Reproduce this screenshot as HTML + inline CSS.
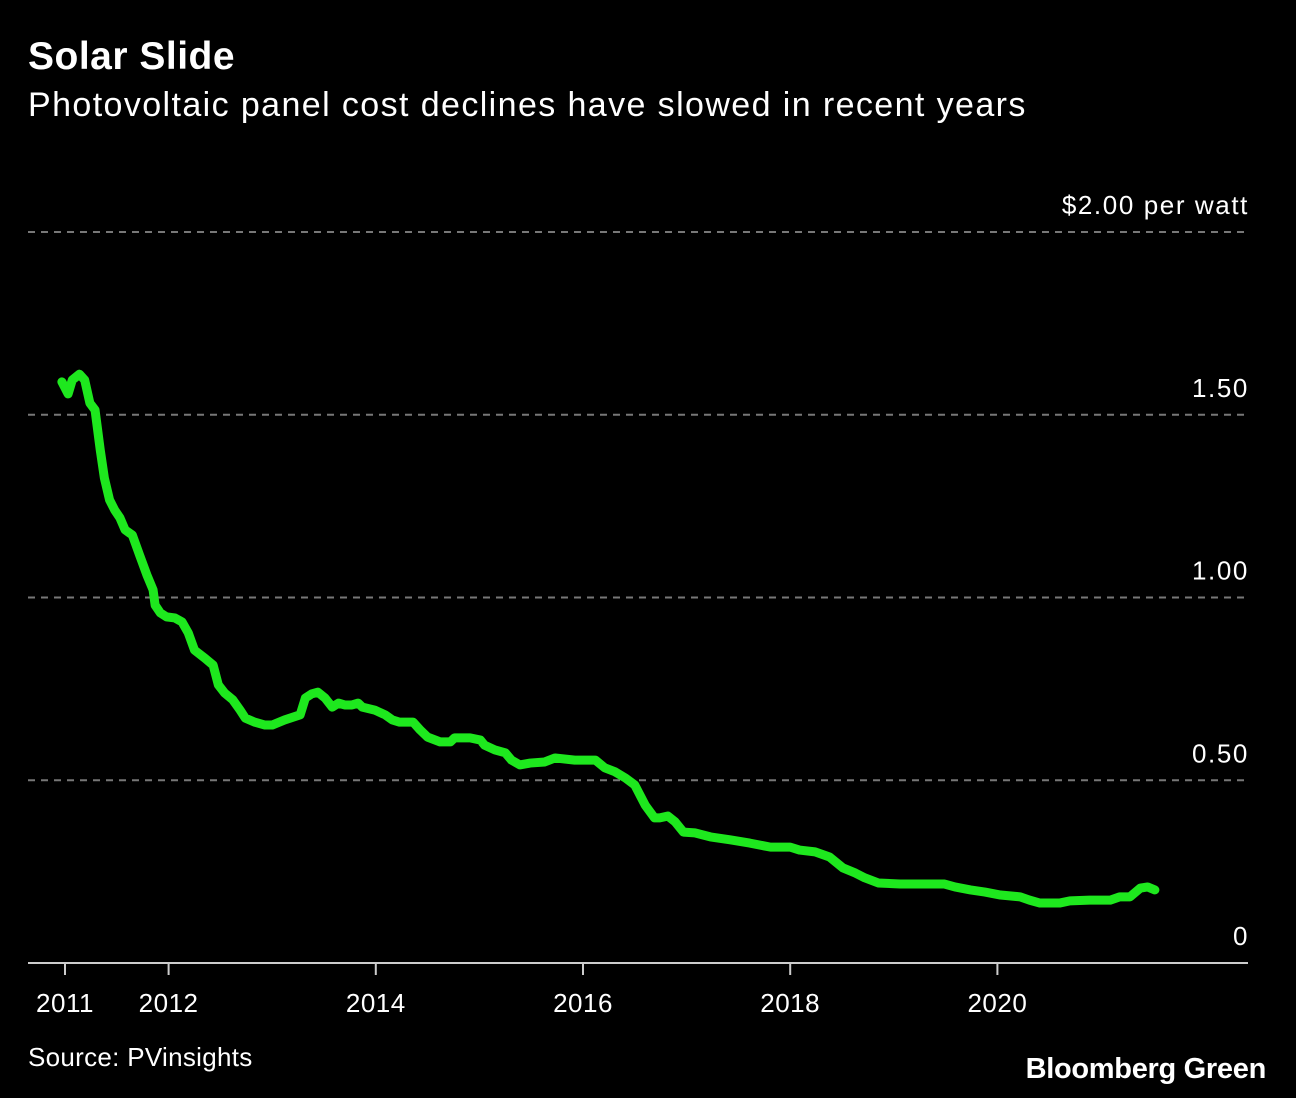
<!DOCTYPE html>
<html><head><meta charset="utf-8"><style>
body{margin:0;background:#000;width:1296px;height:1098px;overflow:hidden;font-family:"Liberation Sans",sans-serif;color:#fff}
#title{position:absolute;left:28px;top:35px;font-size:39px;font-weight:bold;letter-spacing:0.5px}
#sub{position:absolute;left:28px;top:86px;font-size:34px;letter-spacing:1.4px}
#src{position:absolute;left:28px;top:1042px;font-size:26px;letter-spacing:0.3px}
#brand{position:absolute;right:30px;top:1053px;font-size:29px;font-weight:bold;letter-spacing:-0.3px}
svg{position:absolute;left:0;top:0}
</style></head><body>
<div id="title">Solar Slide</div>
<div id="sub">Photovoltaic panel cost declines have slowed in recent years</div>
<svg id="chart" width="1296" height="1098"></svg>
<div id="src">Source: PVinsights</div>
<div id="brand">Bloomberg Green</div>
<script>
const years=[2010.97,2011.03,2011.07,2011.14,2011.19,2011.24,2011.29,2011.34,2011.38,2011.43,2011.48,2011.53,2011.58,2011.65,2011.72,2011.79,2011.85,2011.87,2011.92,2011.98,2012.06,2012.13,2012.19,2012.25,2012.35,2012.43,2012.48,2012.54,2012.62,2012.69,2012.74,2012.83,2012.93,2013.00,2013.12,2013.27,2013.32,2013.38,2013.44,2013.51,2013.58,2013.64,2013.70,2013.77,2013.83,2013.87,2013.99,2014.09,2014.16,2014.23,2014.36,2014.43,2014.50,2014.62,2014.72,2014.76,2014.91,2015.01,2015.05,2015.15,2015.25,2015.31,2015.39,2015.49,2015.63,2015.73,2015.92,2016.12,2016.21,2016.31,2016.41,2016.50,2016.60,2016.69,2016.74,2016.82,2016.89,2016.97,2017.08,2017.23,2017.42,2017.61,2017.81,2018.00,2018.09,2018.24,2018.38,2018.51,2018.63,2018.72,2018.85,2019.06,2019.49,2019.59,2019.74,2019.88,2020.03,2020.22,2020.31,2020.41,2020.60,2020.70,2020.89,2021.09,2021.18,2021.28,2021.38,2021.45,2021.52];
const prices=[1.590,1.557,1.595,1.611,1.595,1.532,1.513,1.404,1.327,1.267,1.239,1.218,1.185,1.171,1.116,1.062,1.021,0.979,0.958,0.947,0.944,0.933,0.903,0.856,0.834,0.815,0.761,0.739,0.720,0.692,0.670,0.659,0.651,0.651,0.665,0.679,0.725,0.736,0.741,0.725,0.700,0.711,0.706,0.706,0.711,0.700,0.692,0.679,0.665,0.659,0.659,0.637,0.618,0.605,0.605,0.616,0.616,0.610,0.596,0.583,0.575,0.555,0.542,0.547,0.550,0.561,0.555,0.555,0.534,0.523,0.506,0.487,0.432,0.397,0.397,0.402,0.386,0.358,0.356,0.345,0.337,0.328,0.317,0.317,0.309,0.304,0.290,0.260,0.246,0.233,0.219,0.216,0.216,0.208,0.200,0.194,0.186,0.181,0.172,0.164,0.164,0.170,0.172,0.172,0.181,0.181,0.205,0.208,0.200];
const yTicks=[0,0.5,1,1.5,2];
const yTickLabels=["0","0.50","1.00","1.50","$2.00 per watt"];
const xTicks=[2011,2012,2014,2016,2018,2020];
const xTickLabels=["2011","2012","2014","2016","2018","2020"];
const X=v=>65+(v-2011)*103.6;
const Y=v=>963-v*365.5;
const svg=document.getElementById('chart');
const NS='http://www.w3.org/2000/svg';
function mk(t,a){const e=document.createElementNS(NS,t);for(const k in a)e.setAttribute(k,a[k]);svg.appendChild(e);return e;}
yTicks.forEach((v,i)=>{
  if(v>0){const l=mk('line',{x1:28,x2:1248,y1:Y(v),y2:Y(v),stroke:'#777','stroke-width':2,'stroke-dasharray':'7,6'});
  
  }
  const t=mk('text',{x:1249,y:Y(v)-18,'text-anchor':'end',fill:'#fff','font-size':26,'letter-spacing':1.6,'font-family':'Liberation Sans, sans-serif'});
  t.textContent=yTickLabels[i];
  
  
});
const base=mk('line',{x1:28,x2:1248,y1:963,y2:963,stroke:'#ccc','stroke-width':2});


xTicks.forEach((v,i)=>{
  const tk=mk('line',{x1:X(v),x2:X(v),y1:963,y2:975,stroke:'#ccc','stroke-width':2});
  
  
  const t=mk('text',{x:X(v),y:1012,'text-anchor':'middle',fill:'#fff','font-size':26,'letter-spacing':0.5,'font-family':'Liberation Sans, sans-serif'});
  t.textContent=xTickLabels[i];
  
  
});
const p=mk('polyline',{points:years.map((y,i)=>X(y)+','+Y(prices[i])).join(' '),fill:'none',stroke:'#1ee81e','stroke-width':9,'stroke-linejoin':'round','stroke-linecap':'round'});


</script>
</body></html>
